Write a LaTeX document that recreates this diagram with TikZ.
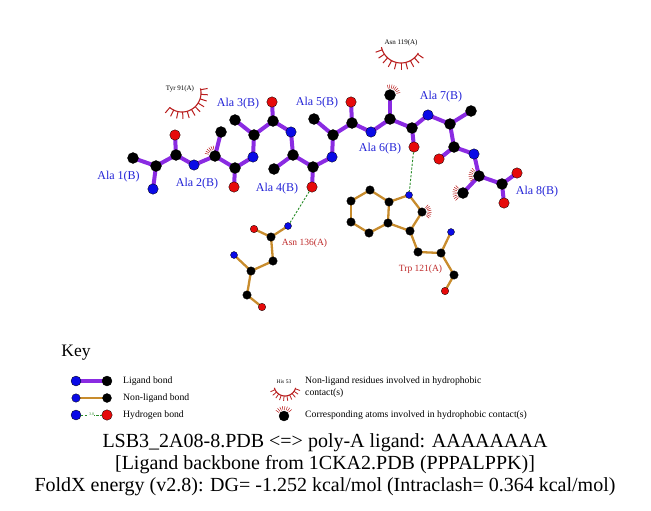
\documentclass[tikz,border=0pt]{standalone}
\usepackage{fontspec}
\setmainfont{Liberation Serif}
\usetikzlibrary{calc}
\pgfdeclarelayer{background}
\pgfsetlayers{background,main}
\definecolor{ligc}{RGB}{138,43,226}
\definecolor{nligc}{RGB}{200,140,45}
\definecolor{hbc}{RGB}{40,140,40}
\definecolor{atomblue}{RGB}{10,10,230}
\definecolor{atomred}{RGB}{230,10,10}
\definecolor{labblue}{RGB}{35,35,215}
\definecolor{labred}{RGB}{190,40,40}
\definecolor{hydc}{RGB}{185,30,30}
\begin{document}
\begin{tikzpicture}[x=1pt,y=-1pt,
  atom/.style={circle, inner sep=0pt, draw=black, line width=0.3pt},
  lC/.style={atom, fill=black, minimum size=11pt},
  lN/.style={atom, fill=atomblue, minimum size=10.5pt},
  lO/.style={atom, fill=atomred, minimum size=10.5pt},
  nC/.style={atom, fill=black, minimum size=8.5pt},
  nN/.style={atom, fill=atomblue, minimum size=7pt},
  nO/.style={atom, fill=atomred, minimum size=7.5pt},
  lig/.style={line width=4pt, color=ligc},
  nlig/.style={line width=2.3pt, color=nligc},
  hbond/.style={line width=0.9pt, color=hbc, dash pattern=on 2.2pt off 1.6pt},
  hyd/.style={line width=0.5pt, color=hydc},
  hydarc/.style={line width=1.1pt, color=hydc},
  spoke/.style={line width=1pt, color=hydc},
  alab/.style={text=labblue, font=\fontsize{12}{14}\selectfont, inner sep=0pt},
  rlab/.style={text=labred, font=\fontsize{9.5}{11}\selectfont, inner sep=0pt},
  slab/.style={text=black, font=\fontsize{7}{8}\selectfont, inner sep=0pt},
  keytxt/.style={font=\fontsize{9.7}{12.5}\selectfont, inner sep=0pt, anchor=west, align=left}
]
\useasboundingbox (0,0) rectangle (651,511);
% ---------------- ligand atoms ----------------
\node[lC] (a1cb) at (133,158) {};
\node[lC] (a1ca) at (156,166) {};
\node[lN] (a1n)  at (153,189) {};
\node[lC] (a1c)  at (176,155) {};
\node[lO] (a1o)  at (175,135) {};
\node[lN] (a2n)  at (194,165) {};
\node[lC] (a2ca) at (215,156) {};
\node[lC] (a2cb) at (221,132) {};
\node[lC] (a2c)  at (235,168) {};
\node[lO] (a2o)  at (234,187) {};
\node[lN] (a3n)  at (253,157) {};
\node[lC] (a3ca) at (254,135) {};
\node[lC] (a3cb) at (235,120) {};
\node[lC] (a3c)  at (273,121) {};
\node[lO] (a3o)  at (272,102) {};
\node[lN] (a4n)  at (291,132) {};
\node[lC] (a4ca) at (293,155) {};
\node[lC] (a4cb) at (274,169) {};
\node[lC] (a4c)  at (313,167) {};
\node[lO] (a4o)  at (312,187) {};
\node[lN] (a5n)  at (332,157) {};
\node[lC] (a5ca) at (333,135) {};
\node[lC] (a5cb) at (314,119) {};
\node[lC] (a5c)  at (352,123) {};
\node[lO] (a5o)  at (351,102) {};
\node[lN] (a6n)  at (371,132) {};
\node[lC] (a6ca) at (390,119) {};
\node[lC] (a6cb) at (390,95) {};
\node[lC] (a6c)  at (412,128) {};
\node[lO] (a6o)  at (414,147) {};
\node[lN] (a7n)  at (428,115) {};
\node[lC] (a7ca) at (450,124) {};
\node[lC] (a7cb) at (471,111) {};
\node[lC] (a7c)  at (454,147) {};
\node[lO] (a7o)  at (439,159) {};
\node[lN] (a8n)  at (474,154) {};
\node[lC] (a8ca) at (479,176) {};
\node[lC] (a8cb) at (463,193) {};
\node[lC] (a8c)  at (502,184) {};
\node[lO] (a8o1) at (517,173) {};
\node[lO] (a8o2) at (504,203) {};
% ---------------- Asn 136 ----------------
\node[nN] (snd2) at (288,226) {};
\node[nC] (scg)  at (271,237) {};
\node[nO] (sod1) at (254,229) {};
\node[nC] (scb)  at (273,261) {};
\node[nC] (sca)  at (251,271) {};
\node[nN] (sn)   at (234,255) {};
\node[nC] (sc)   at (247,295) {};
\node[nO] (so)   at (262,307) {};
% ---------------- Trp 121 ----------------
\node[nN] (tne1) at (409,195) {};
\node[nC] (tc7a) at (389,202) {};
\node[nC] (tc7)  at (370,190) {};
\node[nC] (tc6)  at (351,201) {};
\node[nC] (tc5)  at (351,222) {};
\node[nC] (tc4)  at (369,233) {};
\node[nC] (tc3a) at (388,223) {};
\node[nC] (tcd1) at (422,212) {};
\node[nC] (tcg)  at (410,231) {};
\node[nC] (tcb)  at (418,252) {};
\node[nC] (tca)  at (441,253) {};
\node[nN] (tn)   at (451,232) {};
\node[nC] (tc)   at (454,275) {};
\node[nO] (to)   at (445,291) {};
% ---------------- bonds ----------------
\begin{pgfonlayer}{background}
\foreach \p/\q in {a1cb/a1ca,a1ca/a1n,a1ca/a1c,a1c/a1o,a1c/a2n,a2n/a2ca,a2ca/a2cb,a2ca/a2c,a2c/a2o,a2c/a3n,
  a3n/a3ca,a3ca/a3cb,a3ca/a3c,a3c/a3o,a3c/a4n,a4n/a4ca,a4ca/a4cb,a4ca/a4c,a4c/a4o,a4c/a5n,
  a5n/a5ca,a5ca/a5cb,a5ca/a5c,a5c/a5o,a5c/a6n,a6n/a6ca,a6ca/a6cb,a6ca/a6c,a6c/a6o,a6c/a7n,
  a7n/a7ca,a7ca/a7cb,a7ca/a7c,a7c/a7o,a7c/a8n,a8n/a8ca,a8ca/a8cb,a8ca/a8c,a8c/a8o1,a8c/a8o2}
  \draw[lig] (\p.center) -- (\q.center);
\foreach \p/\q in {snd2/scg,scg/sod1,scg/scb,scb/sca,sca/sn,sca/sc,sc/so,
  tne1/tc7a,tc7a/tc7,tc7/tc6,tc6/tc5,tc5/tc4,tc4/tc3a,tc3a/tc7a,tne1/tcd1,tcd1/tcg,tcg/tc3a,
  tcg/tcb,tcb/tca,tca/tn,tca/tc,tc/to}
  \draw[nlig] (\p.center) -- (\q.center);
\end{pgfonlayer}
% hydrogen bonds
\draw[hbond] (a4o) -- (snd2);
\draw[hbond] (a6o) -- (tne1);
% ---------------- hydrophobic marks on atoms ----------------
\foreach \a in {-165,-152,...,-100} \draw[hyd] ([shift={(\a:6.5)}]a2ca.center) -- ([shift={(\a:10.5)}]a2ca.center);
\foreach \a in {-105,-92,...,-10} \draw[hyd] ([shift={(\a:6.5)}]a6cb.center) -- ([shift={(\a:10.5)}]a6cb.center);
\foreach \a in {150,163,...,240} \draw[hyd] ([shift={(\a:6.5)}]a8ca.center) -- ([shift={(\a:10.5)}]a8ca.center);
\foreach \a in {135,148,...,230} \draw[hyd] ([shift={(\a:6.5)}]a8cb.center) -- ([shift={(\a:10.5)}]a8cb.center);
\foreach \a in {-50,-37,...,45} \draw[hyd] ([shift={(\a:5.5)}]tcd1.center) -- ([shift={(\a:9.5)}]tcd1.center);
% ---------------- hydrophobic residues ----------------
\coordinate (tyrc) at (182,93);
\draw[hydarc, shift={(tyrc)}] plot[domain=-14:131, samples=40] (\x:19);
\foreach \a in {-10,4,...,130} \draw[spoke, shift={(tyrc)}] (\a:19) -- (\a:26);
\node[slab] (tyrlab) at (180,89) {Tyr 91(A)};
\coordinate (asnc) at (401,43);
\draw[hydarc, shift={(asnc)}] plot[domain=30:168, samples=40] (\x:20);
\foreach \a in {34,48,...,166} \draw[spoke, shift={(asnc)}] (\a:20) -- (\a:27);
\node[slab] (asnlab) at (401,43) {Asn 119(A)};
% ---------------- labels ----------------
\node[alab] (l1) at (118.5,177) {Ala 1(B)};
\node[alab] (l2) at (197,184) {Ala 2(B)};
\node[alab] (l3) at (238,104) {Ala 3(B)};
\node[alab] (l4) at (277,189) {Ala 4(B)};
\node[alab] (l5) at (317,103) {Ala 5(B)};
\node[alab] (l6) at (380,149) {Ala 6(B)};
\node[alab] (l7) at (441,97) {Ala 7(B)};
\node[alab] (l8) at (537,192) {Ala 8(B)};
\node[rlab] (r136) at (304.5,243) {Asn 136(A)};
\node[rlab] (r121) at (420.5,269) {Trp 121(A)};
% ---------------- key ----------------
\node[font=\fontsize{17.5}{20}\selectfont, inner sep=0pt] (keyt) at (76,353) {Key};
\node[lN, minimum size=10pt] (k1a) at (76,381) {};
\node[lC, minimum size=10pt] (k1b) at (107,381) {};
\node[nN, minimum size=8.5pt] (k2a) at (76,398) {};
\node[nC, minimum size=9pt] (k2b) at (107,398) {};
\node[lN, minimum size=10pt] (k3a) at (76,415) {};
\node[lO, minimum size=10.5pt] (k3b) at (107,415) {};
\begin{pgfonlayer}{background}
\draw[lig] (k1a.center) -- (k1b.center);
\draw[nlig] (k2a.center) -- (k2b.center);
\end{pgfonlayer}
\draw[hbond] (k3a) -- (k3b);
\node[fill=white, inner sep=0.3pt, text=hbc, font=\fontsize{4}{4}\selectfont] (k3d) at (91.5,414.5) {3.0};
\node[keytxt] (kt1) at (123,381) {Ligand bond};
\node[keytxt] (kt2) at (123,398) {Non-ligand bond};
\node[keytxt] (kt3) at (123,415) {Hydrogen bond};
\node[slab, font=\fontsize{5.5}{6}\selectfont] (his) at (284,382) {His 53};
\coordinate (hisc) at (285,385);
\draw[hydarc, shift={(hisc)}] plot[domain=15:165, samples=30] (\x:11);
\foreach \a in {20,35,...,160} \draw[spoke, line width=0.8pt, shift={(hisc)}] (\a:11) -- (\a:16);
\node[lC, minimum size=10pt] (katom) at (284,416) {};
\foreach \a in {-145,-130,...,-35} \draw[hyd] ([shift={(\a:6)}]katom.center) -- ([shift={(\a:10)}]katom.center);
\node[keytxt, anchor=north west] (kt4) at (305,376.5) {Non-ligand residues involved in hydrophobic\\contact(s)};
\node[keytxt] (kt5) at (305,415) {Corresponding atoms involved in hydrophobic contact(s)};
% ---------------- title ----------------
\node[font=\fontsize{20}{22}\selectfont, align=center, inner sep=0pt] (title) at (325,465)
 {LSB3\_2A08-8.PDB <=> poly-A ligand: AAAAAAAA\\
  {[}Ligand backbone from 1CKA2.PDB (PPPALPPK){]}\\
  FoldX energy (v2.8): DG= -1.252 kcal/mol (Intraclash= 0.364 kcal/mol)};
\end{tikzpicture}
\end{document}
